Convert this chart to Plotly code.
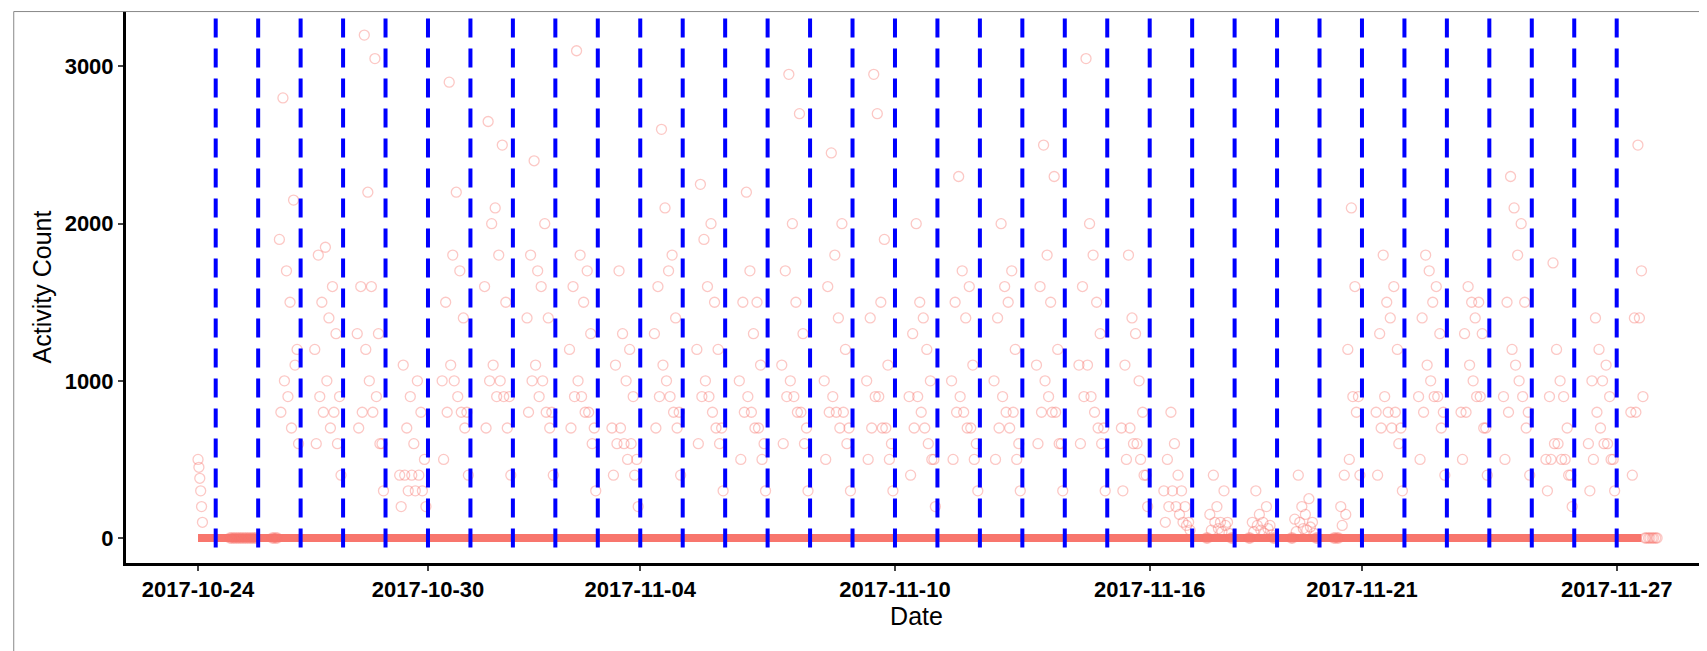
import plotly.graph_objects as go
import pandas as pd

first_day = "2017-10-25"
hours = [8, 10, 12, 14, 16, 18, 20, 22]
high_by_day = [
    [0,0,0,0,0,0,0,0],
    [0,0,1900,2800,1700,1500,2150,1200],
    [1200,1800,1500,1850,1400,1600,1300,900],
    [1300,1600,3200,2200,1600,3050,1300,600],
    [400,1100,700,900,600,1000,800,500],
    [1000,1500,2900,1800,2200,1700,1400,800],
    [1600,2650,2000,2100,1800,2500,1500,900],
    [1400,1800,2400,1700,1600,2000,1400,800],
    [1200,1600,3100,1800,1500,1700,1300,700],
    [700,1100,1700,1300,1000,1200,900,500],
    [1300,1600,2600,2100,1700,1800,1400,800],
    [1200,2250,1900,1600,2000,1500,1200,700],
    [1000,1500,2200,1700,1300,1500,1100,600],
    [1100,1700,2950,2000,1500,2700,1300,700],
    [1000,1600,2450,1800,1400,2000,1200,700],
    [1000,1400,2950,2700,1500,1900,1100,600],
    [900,1300,2000,1500,1400,1200,1000,500],
    [1000,1500,2300,1700,1400,1600,1100,600],
    [1000,1400,2000,1600,1500,1700,1200,600],
    [1100,1600,2500,1800,1500,2300,1200,600],
    [1100,1600,3050,2000,1800,1500,1300,700],
    [700,1100,1800,1400,1300,1000,800,400],
    [300,500,800,600,400,300,200,100],
    [0,150,400,200,100,300,100,0],
    [0,100,300,150,100,200,80,0],
    [0,120,400,200,150,250,100,0],
    [0,0,200,400,1200,2100,1600,900],
    [800,1300,1800,1500,1400,1600,1200,700],
    [900,1400,1800,1700,1500,1600,1300,800],
    [800,1300,1600,1500,1400,1500,1300,700],
    [900,1500,2300,2100,1800,2000,1500,800],
    [500,900,1750,1200,1000,900,700,400],
    [600,1000,1400,1200,1000,1100,900,500],
    [800,1400,2500,1700,0,0,0,0],
]
mid_by_day = [
    [0,0,0,0,0,0,0,0],
    [0,0,800,1000,900,700,1100,600],
    [600,900,800,1000,700,800,600,400],
    [700,800,1200,1000,800,900,600,300],
    [200,400,300,400,300,400,300,200],
    [500,800,1100,1000,900,800,700,400],
    [700,1000,1100,900,1000,900,700,400],
    [800,1000,1100,900,1000,800,700,400],
    [700,900,1000,900,800,800,600,300],
    [400,600,700,600,500,600,400,200],
    [700,900,1100,1000,900,800,700,400],
    [600,900,1000,900,800,700,600,300],
    [500,800,900,800,700,700,500,300],
    [600,900,1000,900,800,800,600,300],
    [500,800,900,800,700,800,600,300],
    [500,700,900,900,700,700,500,300],
    [400,700,900,800,700,600,500,200],
    [500,800,900,800,700,700,500,300],
    [500,700,900,800,700,800,500,300],
    [600,800,1000,900,800,800,600,300],
    [600,900,1100,900,800,700,600,300],
    [300,500,700,600,600,500,400,200],
    [100,200,300,200,150,100,80,50],
    [0,50,100,60,40,80,30,0],
    [0,40,80,50,30,60,20,0],
    [0,40,100,60,50,70,30,0],
    [0,0,80,150,500,900,800,400],
    [400,700,900,800,700,800,600,300],
    [500,800,1100,1000,900,900,700,400],
    [500,800,1100,1000,900,900,700,400],
    [500,800,1200,1100,1000,900,700,400],
    [300,500,600,600,500,500,400,200],
    [300,500,800,700,600,600,500,300],
    [400,800,1400,900,0,0,0,0],
]
start_times = ["2017-10-24 14:00", "2017-10-24 14:30", "2017-10-24 15:00", "2017-10-24 15:30", "2017-10-24 16:00", "2017-10-24 16:30"]
start_values = [500, 450, 380, 300, 200, 100]
record_span = ["2017-10-24 14:00", "2017-11-27 14:00"]
tick_vals = ["2017-10-24 14:00", "2017-10-30 00:00", "2017-11-04 00:00", "2017-11-10 00:00",
             "2017-11-16 00:00", "2017-11-21 00:00", "2017-11-27 00:00"]
tick_text = ["2017-10-24", "2017-10-30", "2017-11-04", "2017-11-10", "2017-11-16", "2017-11-21", "2017-11-27"]
midnights = pd.date_range("2017-10-25", "2017-11-27", freq="D")

base = pd.Timestamp(first_day)
xs, ys = [pd.Timestamp(s) for s in start_times], list(start_values)
for d, (hi, mi) in enumerate(zip(high_by_day, mid_by_day)):
    for h, a, b in zip(hours, hi, mi):
        t = base + pd.Timedelta(days=d, hours=h)
        xs += [t, t + pd.Timedelta(minutes=50)]
        ys += [a, b]

col = "#F8766D"
fig = go.Figure()
fig.add_trace(go.Scatter(x=[pd.Timestamp(s) for s in record_span], y=[0, 0], mode="lines",
                         line=dict(color=col, width=8), hoverinfo="skip"))
fig.add_trace(go.Scatter(x=xs, y=ys, mode="markers",
                         marker=dict(symbol="circle-open", color=col, size=10, opacity=0.4,
                                     line=dict(width=1.3))))
for m in midnights:
    fig.add_shape(type="line", x0=m, x1=m, y0=-60, y1=3330, xref="x", yref="y",
                  line=dict(color="#0000FF", width=4, dash="19px,11px"))
fig.add_shape(type="rect", xref="paper", yref="paper", x0=-0.071, x1=1.004, y0=-0.17, y1=0.999,
              line=dict(color="#888", width=1))

font_ticks = dict(family="Liberation Sans", size=22, color="black")
fig.update_layout(
    width=1707, height=651, plot_bgcolor="white", paper_bgcolor="white",
    margin=dict(l=118, r=8, t=3, b=96), showlegend=False,
    xaxis=dict(range=[pd.Timestamp("2017-10-22 21:17"), pd.Timestamp("2017-11-29 03:03")],
               tickvals=[pd.Timestamp(s) for s in tick_vals], ticktext=["<b>%s</b>" % t for t in tick_text],
               tickfont=font_ticks, showline=True, linecolor="black", linewidth=3,
               ticks="outside", ticklen=5, tickwidth=2, showgrid=False, zeroline=False,
               title=dict(text="Date", font=dict(family="Liberation Sans", size=25, color="black"), standoff=2)),
    yaxis=dict(range=[-159, 3353], tickvals=[0, 1000, 2000, 3000],
               ticktext=["<b>%d</b>" % v for v in [0, 1000, 2000, 3000]],
               tickfont=font_ticks, showline=True, linecolor="black", linewidth=3,
               ticks="outside", ticklen=5, tickwidth=2, showgrid=False, zeroline=False,
               title=dict(text="Activity Count", font=dict(family="Liberation Sans", size=25, color="black"), standoff=6)),
)
fig.write_html("out.html")
